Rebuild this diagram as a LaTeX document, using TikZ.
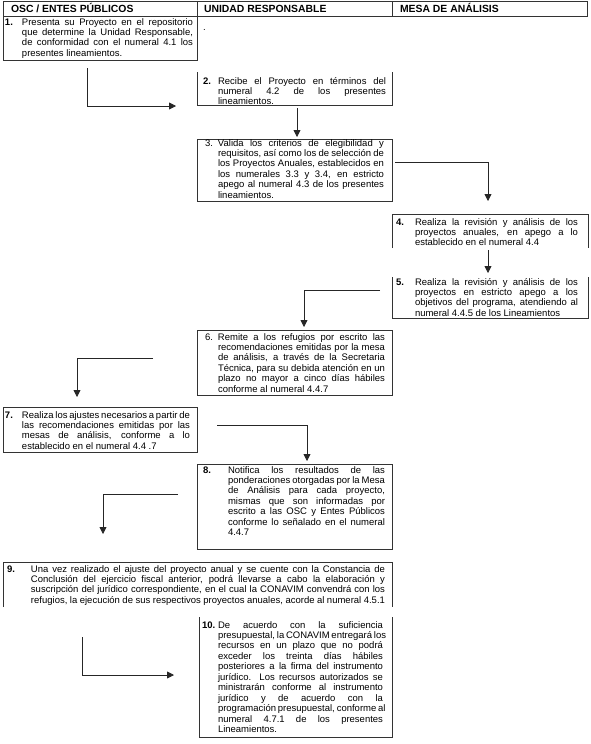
\documentclass[tikz,border=0pt]{standalone}
\usepackage{fontspec}
\setmainfont{Liberation Sans}
\usetikzlibrary{arrows.meta}
\newcommand\jl[1]{\makebox[\linewidth][s]{#1}\\}
\newcommand\bodyfont{\fontsize{9.5}{10.45}\selectfont}
\newcommand\stepbody[4]{\makebox[#1pt][l]{#2}\parbox[t]{#3pt}{#4}}
\tikzset{
  stepbox/.style={draw=none, inner sep=0pt, outer sep=0pt, anchor=north west},
  border/.style={draw=black!80, line width=0.7pt},
  txt/.style={inner sep=0pt, outer sep=0pt, anchor=base west, font=\bodyfont},
  head/.style={inner sep=0pt, outer sep=0pt, anchor=base west, font=\fontsize{10.4}{12}\selectfont\bfseries},
  flow/.style={draw=black!85, line width=0.75pt, -{Triangle[width=7pt,length=7pt]}},
}
\begin{document}
\begin{tikzpicture}[x=1pt,y=-1pt]
\useasboundingbox (0,0) rectangle (590,744);
% header
\node[stepbox, minimum width=584pt, minimum height=15pt] (hdr) at (3,1) {};
\draw[border] (hdr.north west) rectangle (hdr.south east);
\draw[border] (197,1) -- (197,16);
\draw[border] (392,1) -- (392,16);
\node[head] (h1) at (11,12.5) {OSC / ENTES PÚBLICOS};
\node[head] (h2) at (204,12.5) {UNIDAD RESPONSABLE};
\node[head] (h3) at (400,12.5) {MESA DE ANÁLISIS};
\node[txt] (dot) at (203,30) {.};
% boxes
\node[stepbox, minimum width=194pt, minimum height=44pt] (b1) at (3,16) {};
\node[stepbox, minimum width=195pt, minimum height=33pt] (b2) at (197,72) {};
\node[stepbox, minimum width=195pt, minimum height=62pt] (b3) at (197,139) {};
\node[stepbox, minimum width=196pt, minimum height=34pt] (b4) at (392,214) {};
\node[stepbox, minimum width=196pt, minimum height=41pt] (b5) at (392,277) {};
\node[stepbox, minimum width=195pt, minimum height=65pt] (b6) at (197,330) {};
\node[stepbox, minimum width=194pt, minimum height=45pt] (b7) at (3,407) {};
\node[stepbox, minimum width=195pt, minimum height=85pt] (b8) at (197,464) {};
\node[stepbox, minimum width=389pt, minimum height=45pt] (b9) at (3,562) {};
\node[stepbox, minimum width=193pt, minimum height=120pt] (b10) at (199,617) {};
\draw[border] (b1.north west) rectangle (b1.south east);
\draw[border] (b2.north west) -- (b2.south west) -- (b2.south east) -- (b2.north east);
\draw[border] (b3.north west) rectangle (b3.south east);
\draw[border] (b4.south west) -- (b4.north west) -- (b4.north east) -- (b4.south east);
\draw[border] (b5.north west) -- (b5.south west) -- (b5.south east) -- (b5.north east);
\draw[border] (b6.north west) rectangle (b6.south east);
\draw[border] (b7.north west) rectangle (b7.south east);
\draw[border] (b8.north west) rectangle (b8.south east);
\draw[border] (b9.south west) -- (b9.north west) -- (b9.north east) -- (b9.south east);
\draw[border] (b10.north west) -- (b10.south west) -- (b10.south east) -- (b10.north east);
% texts
\node[txt] (t1) at (5,25) {\stepbody{17}{\textbf{1.}}{171}{\jl{Presenta su Proyecto en el repositorio}\jl{que determine la Unidad Responsable,}\jl{de conformidad con el numeral 4.1 los}presentes lineamientos.}};
\node[txt] (t2) at (203,84) {\stepbody{15}{\textbf{2.}}{168}{\jl{Recibe el Proyecto en términos del}\jl{numeral 4.2 de los presentes}lineamientos.}};
\node[txt] (t3) at (205,146) {\stepbody{13}{3.}{166}{\jl{Valida los criterios de elegibilidad y}\jl{requisitos, así como los de selección de}\jl{los Proyectos Anuales, establecidos en}\jl{los numerales 3.3 y 3.4, en estricto}\jl{apego al numeral 4.3 de los presentes}lineamientos.}};
\node[txt] (t4) at (396,225) {\stepbody{19}{\textbf{4.}}{163}{\jl{Realiza la revisión y análisis de los}\jl{proyectos anuales, en apego a lo}establecido en el numeral 4.4}};
\node[txt] (t5) at (396,285) {\stepbody{19}{\textbf{5.}}{163}{\jl{Realiza la revisión y análisis de los}\jl{proyectos en estricto apego a los}\jl{objetivos del programa, atendiendo al}numeral 4.4.5 de los Lineamientos}};
\node[txt] (t6) at (205,340) {\stepbody{13}{6.}{167}{\jl{Remite a los refugios por escrito las}\jl{recomendaciones emitidas por la mesa}\jl{de análisis, a través de la Secretaria}\jl{Técnica, para su debida atención en un}\jl{plazo no mayor a cinco días hábiles}conforme al numeral 4.4.7}};
\node[txt] (t7) at (5,418) {\stepbody{17}{\textbf{7.}}{168}{\jl{Realiza los ajustes necesarios a partir de}\jl{las recomendaciones emitidas por las}\jl{mesas de análisis, conforme a lo}establecido en el numeral 4.4 .7}};
\node[txt] (t8) at (203,473) {\stepbody{25}{\textbf{8.}}{157}{\jl{Notifica los resultados de las}\jl{ponderaciones otorgadas por la Mesa}\jl{de Análisis para cada proyecto,}\jl{mismas que son informadas por}\jl{escrito a las OSC y Entes Públicos}\jl{conforme lo señalado en el numeral}4.4.7}};
\node[txt] (t9) at (7,572) {\stepbody{24}{\textbf{9.}}{354}{\jl{Una vez realizado el ajuste del proyecto anual y se cuente con la Constancia de}\jl{Conclusión del ejercicio fiscal anterior, podrá llevarse a cabo la elaboración y}\jl{suscripción del jurídico correspondiente, en el cual la CONAVIM convendrá con los}refugios, la ejecución de sus respectivos proyectos anuales, acorde al numeral 4.5.1}};
\node[txt] (t10) at (202,628) {\stepbody{16}{\textbf{10.}}{165}{\jl{De acuerdo con la suficiencia}\jl{presupuestal, la CONAVIM entregará los}\jl{recursos en un plazo que no podrá}\jl{exceder los treinta días hábiles}\jl{posteriores a la firma del instrumento}\jl{jurídico. Los recursos autorizados se}\jl{ministrarán conforme al instrumento}\jl{jurídico y de acuerdo con la}\jl{programación presupuestal, conforme al}\jl{numeral 4.7.1 de los presentes}Lineamientos.}};
% connector end points
\coordinate (c1a) at (87,68);  \coordinate (c1b) at (87,106);  \coordinate (c1c) at (176,106);
\coordinate (c2a) at (297,108); \coordinate (c2b) at (297,137);
\coordinate (c3a) at (395,162); \coordinate (c3b) at (488,162); \coordinate (c3c) at (488,201);
\coordinate (c4a) at (488,250); \coordinate (c4b) at (488,273);
\coordinate (c5a) at (380,290); \coordinate (c5b) at (304,290); \coordinate (c5c) at (304,327);
\coordinate (c6a) at (153,358); \coordinate (c6b) at (77,358);  \coordinate (c6c) at (77,397);
\coordinate (c7a) at (217,425); \coordinate (c7b) at (307,425); \coordinate (c7c) at (307,461);
\coordinate (c8a) at (178,494); \coordinate (c8b) at (103,494); \coordinate (c8c) at (103,534);
\coordinate (c9a) at (82,637);  \coordinate (c9b) at (82,675);  \coordinate (c9c) at (174,675);
% connectors
\draw[flow] (c1a) -- (c1b) -- (c1c);
\draw[flow] (c2a) -- (c2b);
\draw[flow] (c3a) -- (c3b) -- (c3c);
\draw[flow] (c4a) -- (c4b);
\draw[flow] (c5a) -- (c5b) -- (c5c);
\draw[flow] (c6a) -- (c6b) -- (c6c);
\draw[flow] (c7a) -- (c7b) -- (c7c);
\draw[flow] (c8a) -- (c8b) -- (c8c);
\draw[flow] (c9a) -- (c9b) -- (c9c);
\end{tikzpicture}
\end{document}
